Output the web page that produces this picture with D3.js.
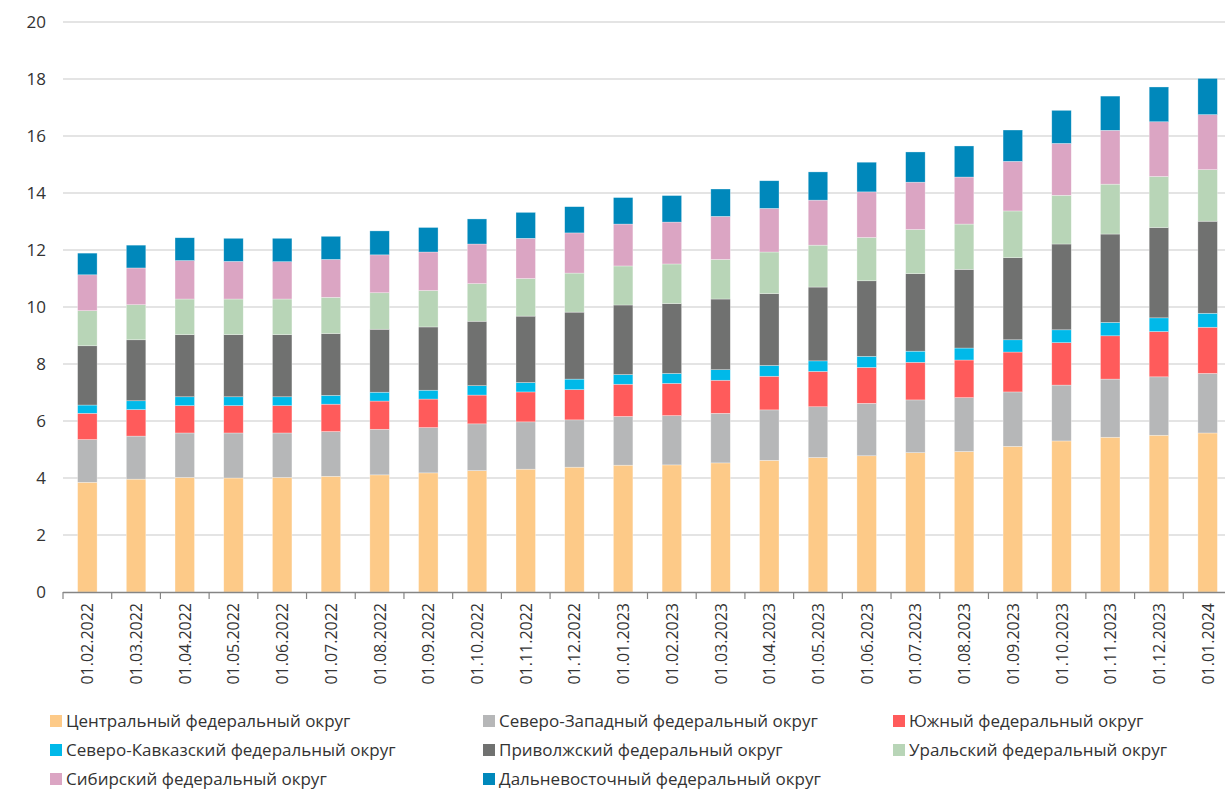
<!DOCTYPE html>
<html>
<head>
<meta charset="utf-8">
<script src="https://cdn.jsdelivr.net/npm/d3@7"></script>
<style>
  body { margin: 0; background: #fff; }
  text { font-family: "Open Sans", "DejaVu Sans", sans-serif; fill: #333; }
</style>
</head>
<body>
<div id="chart"></div>
<script>
const width = 1225, height = 793;

// dates on the x axis
const dates = ["01.02.2022","01.03.2022","01.04.2022","01.05.2022","01.06.2022","01.07.2022",
  "01.08.2022","01.09.2022","01.10.2022","01.11.2022","01.12.2022","01.01.2023",
  "01.02.2023","01.03.2023","01.04.2023","01.05.2023","01.06.2023","01.07.2023",
  "01.08.2023","01.09.2023","01.10.2023","01.11.2023","01.12.2023","01.01.2024"];

// one array per district, stacked bottom to top
const central = [3.85,3.96,4.02,4.00,4.02,4.06,4.11,4.18,4.26,4.31,4.38,4.45,4.46,4.53,4.62,4.72,4.78,4.89,4.93,5.11,5.30,5.43,5.50,5.58];
const northWest = [1.50,1.51,1.56,1.58,1.56,1.57,1.60,1.59,1.64,1.66,1.66,1.71,1.73,1.74,1.77,1.78,1.84,1.85,1.89,1.91,1.96,2.04,2.05,2.09];
const south = [0.92,0.93,0.96,0.96,0.96,0.96,0.99,1.00,1.01,1.05,1.06,1.13,1.13,1.16,1.18,1.24,1.26,1.32,1.32,1.40,1.49,1.52,1.59,1.62];
const northCaucasus = [0.29,0.31,0.31,0.31,0.31,0.31,0.31,0.31,0.33,0.33,0.37,0.34,0.35,0.37,0.38,0.37,0.39,0.39,0.42,0.43,0.45,0.47,0.48,0.49];
const volga = [2.08,2.14,2.18,2.18,2.18,2.17,2.21,2.22,2.26,2.33,2.35,2.44,2.45,2.48,2.52,2.59,2.65,2.72,2.76,2.88,3.01,3.10,3.17,3.23];
const ural = [1.23,1.23,1.25,1.25,1.25,1.27,1.28,1.28,1.32,1.32,1.37,1.37,1.39,1.39,1.46,1.47,1.52,1.55,1.59,1.64,1.71,1.75,1.79,1.81];
const siberia = [1.26,1.29,1.35,1.32,1.31,1.33,1.33,1.35,1.39,1.41,1.41,1.47,1.47,1.51,1.53,1.58,1.60,1.66,1.65,1.74,1.82,1.89,1.92,1.93];
const farEast = [0.76,0.80,0.80,0.81,0.82,0.81,0.84,0.86,0.88,0.91,0.92,0.93,0.93,0.96,0.97,0.99,1.04,1.06,1.09,1.10,1.16,1.20,1.22,1.27];

const seriesNames = ["Центральный федеральный округ","Северо-Западный федеральный округ","Южный федеральный округ",
  "Северо-Кавказский федеральный округ","Приволжский федеральный округ","Уральский федеральный округ",
  "Сибирский федеральный округ","Дальневосточный федеральный округ"];
const seriesValues = [central, northWest, south, northCaucasus, volga, ural, siberia, farEast];
const colors = ["#fdca88","#b6b7b8","#ff5b5b","#00b9e9","#707170","#b8d5b7","#dba5c3","#0088bb"];
const yTicks = [0,2,4,6,8,10,12,14,16,18,20];

// build rows for d3.stack
const keys = seriesNames;
const rows = dates.map((d, i) => {
  const r = { date: d };
  keys.forEach((k, j) => r[k] = seriesValues[j][i]);
  return r;
});
const stacked = d3.stack().keys(keys)(rows);

const svg = d3.select("#chart").append("svg")
  .attr("width", width).attr("height", height);

const x = d3.scaleBand().domain(dates).range([63, 1232]).paddingInner(0.6).paddingOuter(0.3);
const xEdge = d3.scaleBand().domain(dates).range([63, 1232]);
const y = d3.scaleLinear().domain([0, 20]).range([592, 22]);

// gridlines
svg.append("g")
  .selectAll("line").data(yTicks.filter(t => t > 0)).join("line")
  .attr("x1", 63).attr("x2", width)
  .attr("y1", d => y(d)).attr("y2", d => y(d))
  .attr("stroke", "#c9c9c9").attr("stroke-width", 1.2);

// y labels
svg.append("g")
  .selectAll("text").data(yTicks).join("text")
  .attr("x", 46).attr("y", d => y(d) + 6)
  .attr("text-anchor", "end").style("font-size", "17px")
  .text(d => d);

// bars
svg.append("g")
  .selectAll("g").data(stacked).join("g")
  .attr("fill", (d, i) => colors[i])
  .selectAll("rect").data(d => d).join("rect")
  .attr("x", d => x(d.data.date))
  .attr("width", x.bandwidth())
  .attr("y", d => y(d[1]))
  .attr("height", d => y(d[0]) - y(d[1]))
  .attr("stroke", "rgba(255,255,255,0.5)").attr("stroke-width", 0.6);

// x axis line and ticks at band edges
const ax = svg.append("g");
ax.append("line").attr("x1", 63).attr("x2", 1232).attr("y1", 592.5).attr("y2", 592.5)
  .attr("stroke", "#858585").attr("stroke-width", 1.5);
ax.selectAll("line.tick").data(dates).join("line").attr("class", "tick")
  .attr("x1", d => xEdge(d)).attr("x2", d => xEdge(d))
  .attr("y1", 592).attr("y2", 599)
  .attr("stroke", "#858585").attr("stroke-width", 1.2);

ax.selectAll("text").data(dates).join("text")
  .attr("transform", d => `translate(${x(d) + x.bandwidth() / 2 + 6},603) rotate(-90)`)
  .attr("text-anchor", "end").style("font-size", "16px")
  .text(d => d);

// legend
const legendX = [50, 483, 893], legendY = [722, 751, 780];
const legend = svg.append("g").selectAll("g").data(seriesNames).join("g")
  .attr("transform", (d, i) => `translate(${legendX[i % 3]},${legendY[Math.floor(i / 3)]})`);
legend.append("rect").attr("x", 0).attr("y", -7).attr("width", 12).attr("height", 12)
  .attr("fill", (d, i) => colors[i]);
legend.append("text").attr("x", 16).attr("y", 5).style("font-size", "17px")
  .text(d => d);
</script>
</body>
</html>
